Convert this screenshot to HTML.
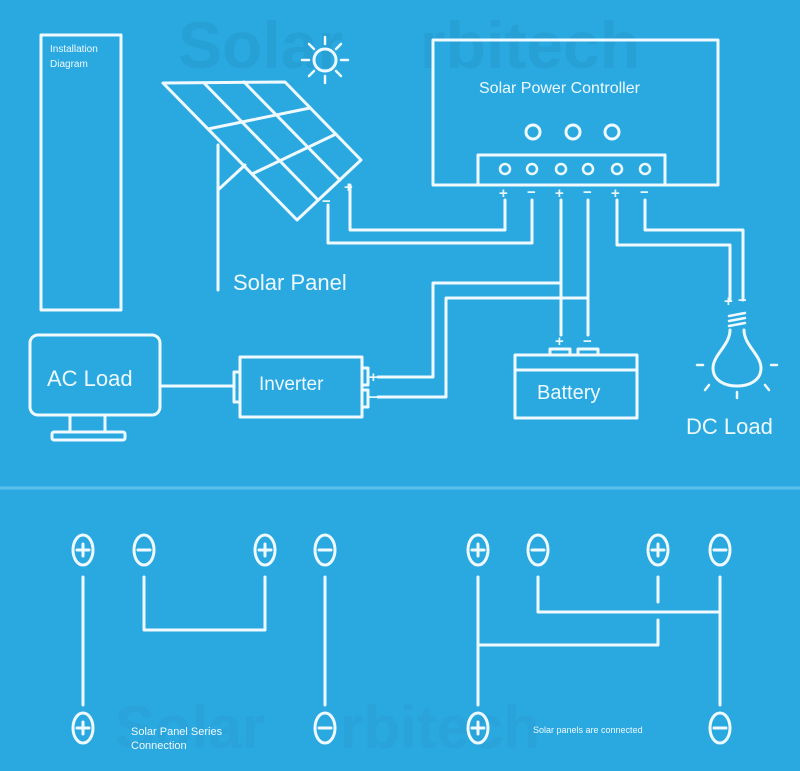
<!DOCTYPE html>
<html><head><meta charset="utf-8"><style>
html,body{margin:0;padding:0;background:#2aa8e0;}
svg{display:block}
text{font-family:"Liberation Sans",sans-serif;fill:#eefaff}
</style></head><body>
<svg width="800" height="771" viewBox="0 0 800 771" xmlns="http://www.w3.org/2000/svg">
<defs>
<g id="p"><ellipse cx="0" cy="0" rx="10" ry="15"/><line x1="-6" y1="0" x2="6" y2="0"/><line x1="0" y1="-6" x2="0" y2="6"/></g>
<g id="m"><ellipse cx="0" cy="0" rx="10" ry="15"/><line x1="-6" y1="0" x2="6" y2="0"/></g>
</defs>
<rect width="800" height="771" fill="#2aa8e0"/>
<line x1="0" y1="488" x2="800" y2="488" stroke="#5cc0ea" stroke-width="3"/>
<!-- watermarks -->
<text x="178" y="68" font-size="66" font-weight="bold" style="fill:#27a0d6">Solar</text>
<text x="420" y="68" font-size="66" font-weight="bold" style="fill:#27a0d6">rbitech</text>
<text x="115" y="748" font-size="60" font-weight="bold" style="fill:#29a3da">Solar</text>
<text x="340" y="748" font-size="60" font-weight="bold" style="fill:#29a3da">rbitech</text>
<g fill="none" stroke="#eefaff" stroke-width="3" stroke-linejoin="round" stroke-linecap="round">
<rect x="41" y="35" width="80" height="275"/>
<circle cx="325" cy="60" r="11"/>
<g stroke-width="2.5">
<line x1="325" y1="37" x2="325" y2="44"/><line x1="325" y1="76" x2="325" y2="83"/>
<line x1="302" y1="60" x2="309" y2="60"/><line x1="341" y1="60" x2="348" y2="60"/>
<line x1="309" y1="44" x2="314" y2="49"/><line x1="336" y1="71" x2="341" y2="76"/>
<line x1="341" y1="44" x2="336" y2="49"/><line x1="314" y1="71" x2="309" y2="76"/>
</g>
<polygon points="163,83 285,82 361,160 297,220"/>
<line x1="204" y1="83" x2="318" y2="200"/>
<line x1="244" y1="82" x2="340" y2="180"/>
<line x1="208" y1="129" x2="310" y2="108"/>
<line x1="252" y1="174" x2="336" y2="134"/>
<line x1="218" y1="145" x2="218" y2="290"/>
<line x1="218" y1="190" x2="245" y2="165"/>
<polyline points="350,185 350,230 505,230 505,200"/>
<polyline points="328,205 328,243 532,243 532,200"/>
<rect x="433" y="40" width="285" height="145"/>
<rect x="478" y="155" width="187" height="30"/>
<circle cx="533" cy="132" r="7"/><circle cx="573" cy="132" r="7"/><circle cx="612" cy="132" r="7"/>
<g stroke-width="2.5">
<circle cx="505" cy="169" r="5"/><circle cx="532" cy="169" r="5"/><circle cx="561" cy="169" r="5"/>
<circle cx="588" cy="169" r="5"/><circle cx="617" cy="169" r="5"/><circle cx="645" cy="169" r="5"/>
</g>
<polyline points="561,200 561,335"/>
<polyline points="588,200 588,335"/>
<polyline points="561,283 433,283 433,377 378,377"/>
<polyline points="588,298 446,298 446,397 378,397"/>
<polyline points="617,200 617,245 730,245 730,300"/>
<polyline points="645,200 645,230 743,230 743,300"/>
<rect x="515" y="355" width="122" height="63"/>
<line x1="515" y1="370" x2="637" y2="370"/>
<rect x="550" y="349" width="20" height="6"/><rect x="578" y="349" width="20" height="6"/>
<rect x="240" y="357" width="122" height="60"/>
<rect x="234" y="372" width="6" height="30"/>
<rect x="362" y="368" width="6" height="17"/><rect x="362" y="390" width="6" height="17"/>
<line x1="162" y1="386" x2="234" y2="386"/>
<rect x="30" y="335" width="130" height="80" rx="8"/>
<polyline points="70,415 70,432"/><polyline points="105,415 105,432"/>
<rect x="52" y="432" width="73" height="8" rx="2"/>
<path d="M730,330 C730,345 713,355 713,368 C713,380 724,386 737,386 C750,386 761,380 761,368 C761,355 744,345 744,330"/>
<g stroke-width="2.5">
<line x1="729" y1="316" x2="745" y2="313"/><line x1="729" y1="321" x2="745" y2="318"/><line x1="729" y1="326" x2="745" y2="323"/>
<line x1="697" y1="365" x2="703" y2="365"/><line x1="771" y1="365" x2="777" y2="365"/>
<line x1="709" y1="385" x2="705" y2="390"/><line x1="765" y1="385" x2="769" y2="390"/>
<line x1="737" y1="392" x2="737" y2="398"/>
</g>
<line x1="83" y1="577" x2="83" y2="705"/>
<line x1="325" y1="577" x2="325" y2="705"/>
<polyline points="144,577 144,630 265,630 265,577"/>
<line x1="478" y1="577" x2="478" y2="705"/>
<line x1="720" y1="577" x2="720" y2="705"/>
<polyline points="538,577 538,612 720,612"/>
<line x1="658" y1="577" x2="658" y2="602"/>
<polyline points="658,620 658,645 478,645"/>
<use href="#p" x="83" y="550"/><use href="#p" x="265" y="550"/><use href="#p" x="478" y="550"/><use href="#p" x="658" y="550"/>
<use href="#p" x="83" y="728"/><use href="#p" x="478" y="728"/>
<use href="#m" x="144" y="550"/><use href="#m" x="325" y="550"/><use href="#m" x="538" y="550"/><use href="#m" x="720" y="550"/>
<use href="#m" x="325" y="728"/><use href="#m" x="720" y="728"/>
</g>
<text x="50" y="52" font-size="10">Installation</text>
<text x="50" y="67" font-size="10">Diagram</text>
<text x="479" y="93" font-size="16">Solar Power Controller</text>
<text x="233" y="290" font-size="22">Solar Panel</text>
<text x="47" y="386" font-size="22">AC Load</text>
<text x="259" y="390" font-size="19">Inverter</text>
<text x="537" y="399" font-size="20">Battery</text>
<text x="686" y="434" font-size="22">DC Load</text>
<text x="131" y="735" font-size="11">Solar Panel Series</text>
<text x="131" y="749" font-size="11">Connection</text>
<text x="533" y="733" font-size="9">Solar panels are connected</text>
<g font-size="15" font-weight="bold">
<text x="499" y="198">+</text><text x="527" y="197">−</text><text x="555" y="198">+</text><text x="583" y="197">−</text><text x="611" y="198">+</text><text x="640" y="197">−</text>
<text x="344" y="192">+</text><text x="322" y="206">−</text>
<text x="555" y="346">+</text><text x="583" y="346">−</text>
<text x="369" y="382">+</text><text x="369" y="402">−</text>
<text x="724" y="306">+</text><text x="738" y="305">−</text>
</g>
</svg>
</body></html>
